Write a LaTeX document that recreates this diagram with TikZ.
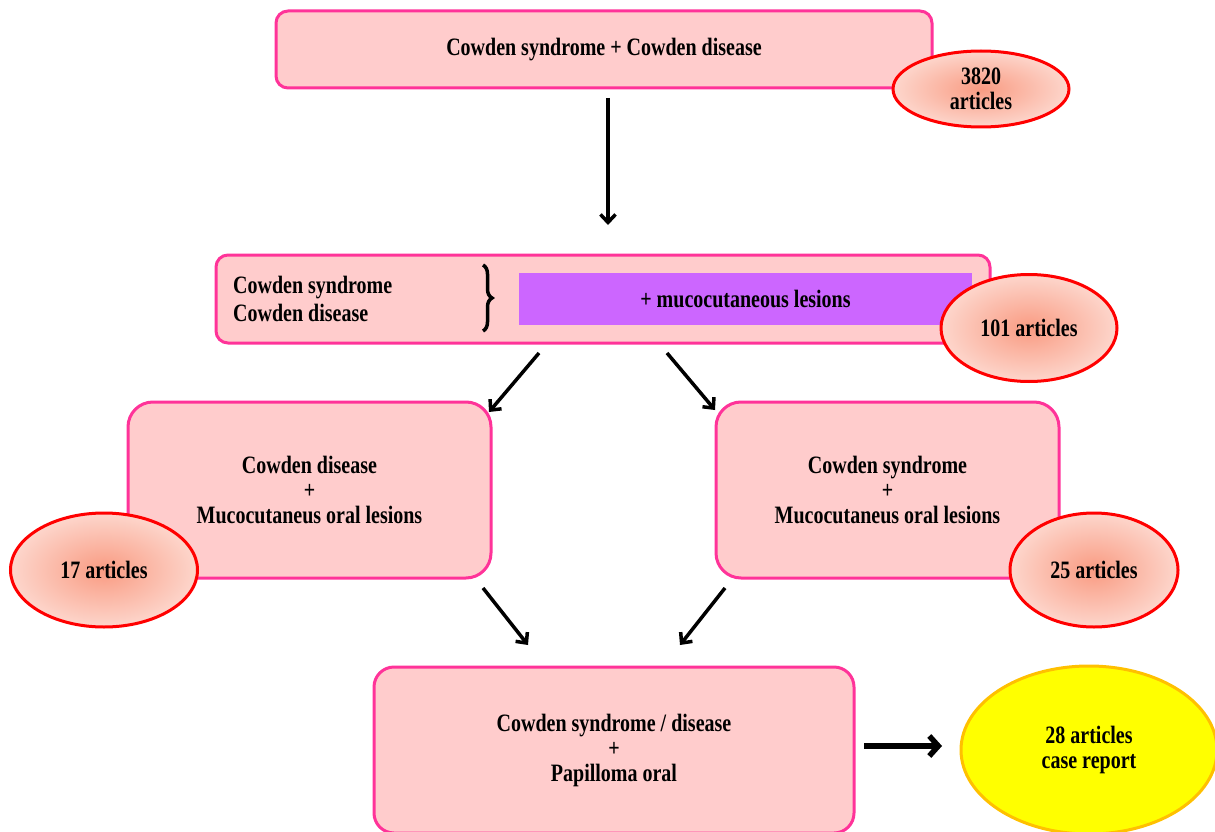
\documentclass[tikz,border=0pt]{standalone}
\usepackage{fontspec}
\setmainfont{Liberation Serif}[FakeStretch=0.8]
\usetikzlibrary{arrows.meta,decorations.pathreplacing,shapes.geometric}
\definecolor{boxfill}{RGB}{255,204,204}
\definecolor{boxline}{RGB}{255,51,153}
\definecolor{ellline}{RGB}{255,0,0}
\definecolor{ellin}{RGB}{249,155,130}
\definecolor{ellout}{RGB}{253,214,204}
\definecolor{purp}{RGB}{204,102,255}
\definecolor{yell}{RGB}{255,255,0}
\definecolor{yline}{RGB}{255,192,0}
\tikzset{
  pbox/.style={draw=boxline, fill=boxfill, line width=3pt, rounded corners=#1, inner sep=0pt, align=center},
  ell/.style={ellipse, draw=ellline, line width=3pt, inner color=ellin, outer color=ellout, inner sep=0pt, align=center},
  yell/.style={ellipse, draw=yline, line width=3pt, fill=yell, inner sep=0pt, align=center},
  arr/.style={line width=3.5pt, -{Straight Barb[length=8pt,width=15pt]}},
  bigarr/.style={line width=5.5pt, -{Straight Barb[length=9pt,width=20pt]}},
  lbl/.style={inner sep=0pt, anchor=west}
}
\begin{document}
\begin{tikzpicture}[x=1pt,y=-1pt, font=\fontsize{25}{25}\selectfont\bfseries]
\useasboundingbox (0,0) rectangle (1215,832);
% top box
\node[pbox=12pt, minimum width=656pt, minimum height=77pt] (top) at (604,49.5) {};
\node[inner sep=0pt] (toptxt) at (top.center) {Cowden syndrome + Cowden disease};
\node[ell, minimum width=176pt, minimum height=76pt] (e1) at (981,89) {3820\\articles};
% second box
\node[pbox=12pt, minimum width=774pt, minimum height=88pt] (mid) at (603,299) {};
\node[lbl] (cs) at (233,288) {Cowden syndrome};
\node[lbl] (cd) at (233,313) {Cowden disease};
\draw[line width=3.5pt, decorate, decoration={brace, amplitude=9pt}] (483,265) -- (483,331);
\node[fill=purp, minimum width=453pt, minimum height=52pt, inner sep=0pt] (muc) at (745.5,299) {+ mucocutaneous lesions};
\node[ell, minimum width=176pt, minimum height=107pt] (e2) at (1029,328) {101 articles};
% left and right boxes
\node[pbox=25pt, minimum width=363pt, minimum height=176pt] (left) at (309.5,490) {Cowden disease\\+\\Mucocutaneus oral lesions};
\node[ell, minimum width=187pt, minimum height=114pt] (e3) at (104,570) {17 articles};
\node[pbox=25pt, minimum width=343pt, minimum height=176pt] (right) at (887.5,490) {Cowden syndrome\\+\\Mucocutaneus oral lesions};
\node[ell, minimum width=168pt, minimum height=114pt] (e4) at (1094,570) {25 articles};
% bottom box
\node[pbox=20pt, minimum width=480pt, minimum height=166pt] (bot) at (614,750) {Cowden syndrome / disease\\+\\Papilloma oral};
\node[yell, minimum width=256pt, minimum height=168pt] (e5) at (1089,750) {28 articles\\case report};
% arrows
\coordinate (a1s) at (608,98);  \coordinate (a1e) at (608,225);
\coordinate (a2s) at (539,353); \coordinate (a2e) at (489,412);
\coordinate (a3s) at (667,353); \coordinate (a3e) at (715,410);
\coordinate (a4s) at (483,588); \coordinate (a4e) at (528,645);
\coordinate (a5s) at (725,588); \coordinate (a5e) at (680,645);
\coordinate (a6s) at (864,746); \coordinate (a6e) at (942,746);
\draw[arr] (a1s) -- (a1e);
\draw[arr] (a2s) -- (a2e);
\draw[arr] (a3s) -- (a3e);
\draw[arr] (a4s) -- (a4e);
\draw[arr] (a5s) -- (a5e);
\draw[bigarr] (a6s) -- (a6e);
\end{tikzpicture}
\end{document}
